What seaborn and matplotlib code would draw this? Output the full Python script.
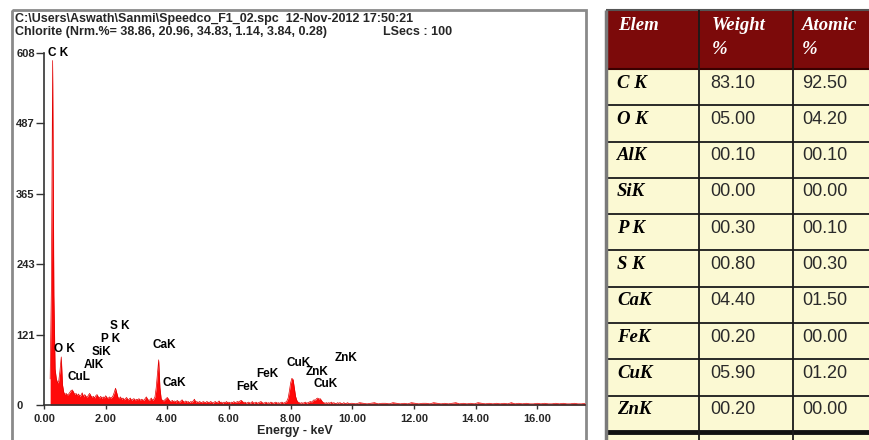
import numpy as np
import matplotlib
matplotlib.use("Agg")
import matplotlib.pyplot as plt
from matplotlib.patches import Rectangle
import seaborn as sns

sns.set_theme(style="white")
plt.rcParams["font.family"] = ["Liberation Sans", "DejaVu Sans"]

# ---- EDS spectrum (counts per channel) ----
fine_start, fine_step = 0.20, 0.04        # 0.20 - 9.96 keV
counts_fine = [
    45, 205, 595, 190, 62, 45, 38, 42, 60, 83, 35, 22, 18, 20, 17, 19, 22, 25, 26, 22, 18, 20, 16, 19, 15,
    17, 21, 14, 18, 15, 13, 17, 20, 16, 13, 15, 12, 16, 18, 14, 12, 15, 11, 14, 12, 16, 13, 11, 14, 12,
    13, 16, 22, 29, 21, 13, 11, 14, 10, 12, 9, 11, 13, 9, 10, 12, 8, 10, 11, 8, 10, 9, 11, 8, 10,
    9, 8, 11, 14, 10, 8, 9, 12, 8, 10, 14, 30, 55, 78, 30, 11, 8, 7, 9, 11, 13, 10, 7, 6, 8,
    6, 7, 5, 8, 6, 5, 7, 9, 6, 5, 7, 5, 6, 4, 6, 5, 7, 10, 5, 6, 4, 6, 5, 4, 6,
    5, 4, 6, 5, 4, 6, 5, 3, 5, 6, 4, 5, 7, 4, 5, 3, 5, 4, 6, 4, 5, 3, 5, 4, 6,
    4, 5, 6, 5, 7, 8, 6, 4, 5, 3, 4, 5, 3, 4, 6, 3, 4, 5, 3, 4, 5, 6, 4, 3, 4,
    5, 3, 4, 3, 5, 4, 3, 4, 5, 3, 4, 3, 4, 5, 3, 4, 5, 7, 12, 24, 38, 46, 44, 30, 15,
    8, 5, 4, 3, 4, 3, 4, 5, 3, 4, 5, 6, 5, 7, 9, 8, 11, 12, 10, 11, 8, 5, 4, 3, 4,
    3, 4, 3, 5, 3, 4, 3, 2, 4, 3, 4, 3, 2, 4, 3, 2, 4, 3, 2, 3,
]
coarse_start, coarse_step = 10.00, 0.12   # 10.00 - 17.56 keV
counts_coarse = [
    3, 2, 4, 3, 2, 3, 4, 2,
    3, 3, 2, 4, 3, 2, 3, 2,
    4, 3, 2, 3, 3, 2, 4, 3,
    2, 3, 2, 3, 4, 2, 3, 2,
    3, 2, 4, 3, 2, 3, 2, 3,
    2, 3, 2, 4, 2, 3, 2, 3,
    2, 2, 3, 2, 3, 2, 2, 3,
    2, 3, 2, 2, 3, 2, 2, 3,
]

y_ticks = [0, 121, 243, 365, 487, 608]
x_ticks = [0, 2, 4, 6, 8, 10, 12, 14, 16]

# peak identification labels (text, energy keV, counts)
peak_names = ["C K", "O K", "CuL", "AlK", "SiK", "P K", "S K", "CaK", "CaK",
              "FeK", "FeK", "CuK", "ZnK", "CuK", "ZnK"]
peak_label_e = [0.47, 0.65, 1.14, 1.62, 1.87, 2.16, 2.45, 3.90, 4.24,
                6.61, 7.26, 8.26, 8.86, 9.14, 9.81]
peak_label_c = [608, 97, 48, 69, 92, 114, 136, 104, 38,
                31, 54, 73, 57, 36, 81]

header_line1 = r"C:\Users\Aswath\Sanmi\Speedco_F1_02.spc  12-Nov-2012 17:50:21"
header_line2 = "Chlorite (Nrm.%= 38.86, 20.96, 34.83, 1.14, 3.84, 0.28)"
header_lsecs = "LSecs : 100"

# ---- quantification table ----
elements = ["C K", "O K", "AlK", "SiK", "P K", "S K", "CaK", "FeK", "CuK", "ZnK"]
weight_pct = [83.10, 5.00, 0.10, 0.00, 0.30, 0.80, 4.40, 0.20, 5.90, 0.20]
atomic_pct = [92.50, 4.20, 0.10, 0.00, 0.10, 0.30, 1.50, 0.00, 1.20, 0.00]

energy = np.concatenate([
    np.round(fine_start + fine_step * np.arange(len(counts_fine)), 2),
    np.round(coarse_start + coarse_step * np.arange(len(counts_coarse)), 2),
])
counts = np.array(counts_fine + counts_coarse, dtype=float)

W, H = 870, 440
fig = plt.figure(figsize=(W / 100, H / 100), dpi=100)
fig.patch.set_facecolor("white")

# overlay in pixel coordinates for the frame, header and table
ov = fig.add_axes([0, 0, 1, 1], zorder=0)
ov.set_xlim(0, W)
ov.set_ylim(H, 0)
ov.axis("off")

ov.add_patch(Rectangle((12, 10), 574, 440, fill=False, edgecolor="#8a8a8a",
                       linewidth=2.0, clip_on=False))
ov.text(15, 19, header_line1, fontsize=9, fontweight="bold", va="center", ha="left")
ov.text(15, 32, header_line2, fontsize=9, fontweight="bold", va="center", ha="left")
ov.text(383, 32, header_lsecs, fontsize=9, fontweight="bold", va="center", ha="left")
ov.text(295, 431, "Energy - keV", fontsize=9, fontweight="bold", va="center", ha="center")

# table geometry
t_left, t_right = 606, 905
col_x = [606, 699, 793]
head_top, head_bot = 10, 69
row_h = 36.3
n_rows = len(elements)
table_bot = head_bot + row_h * n_rows

ov.add_patch(Rectangle((t_left, head_bot), t_right - t_left, table_bot - head_bot,
                       facecolor="#fbf9d3", edgecolor="none", zorder=1))
ov.add_patch(Rectangle((t_left, head_top), t_right - t_left, head_bot - head_top,
                       facecolor="#7c0a0a", edgecolor="none", zorder=1))
ov.add_patch(Rectangle((t_left, table_bot), t_right - t_left, H - table_bot,
                       facecolor="#fbf9d3", edgecolor="none", zorder=1))

serif_bi = dict(family=["Liberation Serif", "DejaVu Serif"], fontweight="bold",
                fontstyle="italic")
ov.text(618, 25, "Elem", color="white", fontsize=13.5, va="center", ha="left", zorder=3, **serif_bi)
ov.text(712, 25, "Weight", color="white", fontsize=13.5, va="center", ha="left", zorder=3, **serif_bi)
ov.text(712, 50, "%", color="white", fontsize=13.5, va="center", ha="left", zorder=3, **serif_bi)
ov.text(802, 25, "Atomic", color="white", fontsize=13.5, va="center", ha="left", zorder=3, **serif_bi)
ov.text(802, 50, "%", color="white", fontsize=13.5, va="center", ha="left", zorder=3, **serif_bi)

for i, (el, wv, av) in enumerate(zip(elements, weight_pct, atomic_pct)):
    yc = head_bot + row_h * i + 14
    ov.text(617, yc, el, color="black", fontsize=13.5, va="center", ha="left", zorder=3, **serif_bi)
    ov.text(710, yc, f"{wv:05.2f}", color="#2a2a2a", fontsize=13, va="center", ha="left", zorder=3)
    ov.text(802, yc, f"{av:05.2f}", color="#2a2a2a", fontsize=13, va="center", ha="left", zorder=3)

row_lines = [head_bot + row_h * i for i in range(1, n_rows)]
ov.hlines(row_lines, t_left, t_right, color="#1a1a1a", linewidth=1.3, zorder=2)
ov.hlines([head_bot], t_left, t_right, color="#3a0000", linewidth=1.5, zorder=2)
ov.hlines([table_bot], t_left, t_right, color="#111111", linewidth=3.5, zorder=2)
ov.hlines([head_top], t_left, t_right, color="#555555", linewidth=1.5, zorder=2)
ov.vlines(col_x[1:], head_top, H, color="#1a1a1a", linewidth=1.3, zorder=2)
ov.vlines([t_left], head_top, H, color="#7a7a7a", linewidth=2.5, zorder=2)

# spectrum axes
x0, x1 = 44, 585
y0, y1 = 405, 53
ax = fig.add_axes([x0 / W, 1 - y0 / H, (x1 - x0) / W, (y0 - y1) / H], zorder=2)
ax.patch.set_alpha(0)
ax.fill_between(energy, counts, 0, color="#ff0a0a", linewidth=0)
sns.lineplot(x=energy, y=counts, ax=ax, color="#e00000", linewidth=0.5)
ax.set_xlim(0, 17.55)
ax.set_ylim(0, 608)
ax.set_xlabel("")
ax.set_ylabel("")
for s in ["top", "right"]:
    ax.spines[s].set_visible(False)
for s in ["left", "bottom"]:
    ax.spines[s].set_color("#333333")
    ax.spines[s].set_linewidth(1.2)

ax.set_yticks(y_ticks)
ax.set_yticklabels([str(v) for v in y_ticks], fontsize=8, fontweight="bold")
ax.set_xticks(x_ticks)
ax.set_xticklabels([f"{v:.2f}" for v in x_ticks], fontsize=8, fontweight="bold")
ax.tick_params(axis="y", direction="out", length=5.5, width=1, color="#333333",
               pad=14.5, left=True)
ax.tick_params(axis="x", direction="out", length=3, width=1, color="#333333",
               pad=3.5, bottom=True)
for lab in ax.get_yticklabels():
    lab.set_horizontalalignment("left")

for name, e, c in zip(peak_names, peak_label_e, peak_label_c):
    ax.text(e, c, name, fontsize=8.5, fontweight="bold", ha="center", va="center",
            color="black", clip_on=False)

fig.savefig("out.png", dpi=100, facecolor="white")
